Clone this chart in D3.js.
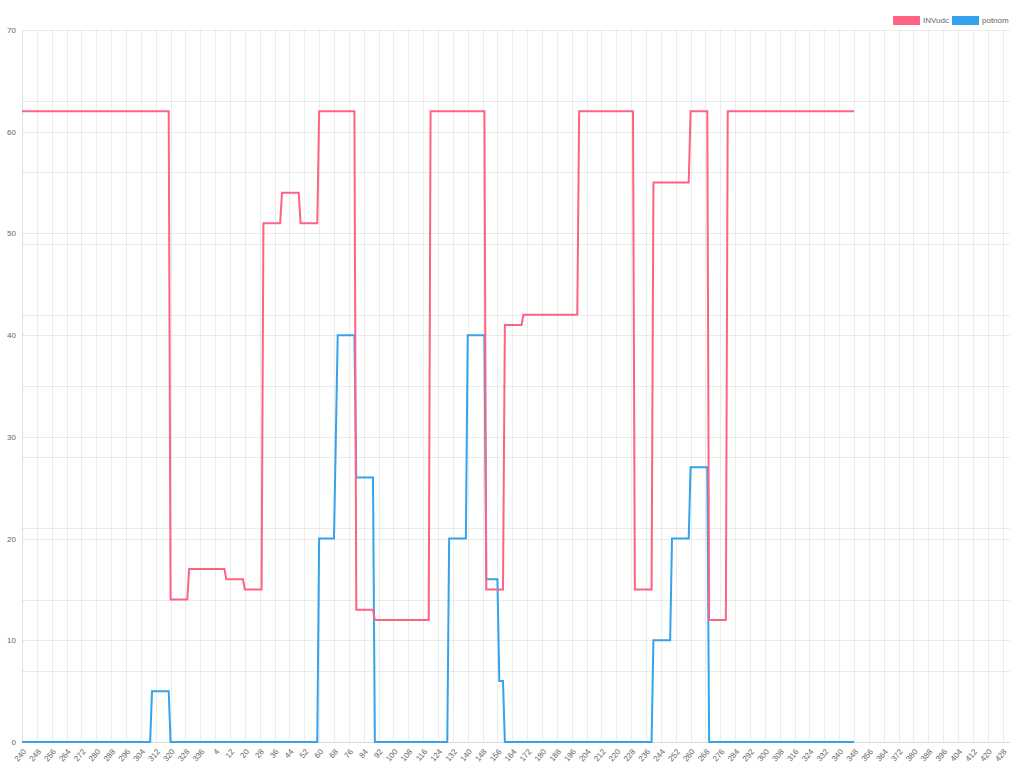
<!DOCTYPE html>
<html>
<head>
<meta charset="utf-8">
<script src="https://cdn.jsdelivr.net/npm/d3@7"></script>
<style>
  html, body { margin: 0; padding: 0; background: #fff; }
  svg { display: block; }
  text { font-family: "Liberation Sans", Arial, Helvetica, sans-serif; }
</style>
</head>
<body>
<div id="chart"></div>
<script>
// ---- Data -------------------------------------------------------------
// Category labels along the x axis (degrees wrap after 339 back to 0)
const categories = [].concat(d3.range(240, 340), d3.range(0, 433)).map(String);

// Every 8th category is labelled on the axis
const tickEvery = 8;

const seriesNames = ["INVudc", "potnom"];

const INVudc = [
  62,62,62,62,62,62,62,62,62,62,
  62,62,62,62,62,62,62,62,62,62,
  62,62,62,62,62,62,62,62,62,62,
  62,62,62,62,62,62,62,62,62,62,
  62,62,62,62,62,62,62,62,62,62,
  62,62,62,62,62,62,62,62,62,62,
  62,62,62,62,62,62,62,62,62,62,
  62,62,62,62,62,62,62,62,62,62,
  14,14,14,14,14,14,14,14,14,14,
  17,17,17,17,17,17,17,17,17,17,
  17,17,17,17,17,17,17,17,17,17,
  16,16,16,16,16,16,16,16,16,16,
  15,15,15,15,15,15,15,15,15,15,
  51,51,51,51,51,51,51,51,51,51,
  54,54,54,54,54,54,54,54,54,54,
  51,51,51,51,51,51,51,51,51,51,
  62,62,62,62,62,62,62,62,62,62,
  62,62,62,62,62,62,62,62,62,62,
  13,13,13,13,13,13,13,13,13,13,
  12,12,12,12,12,12,12,12,12,12,
  12,12,12,12,12,12,12,12,12,12,
  12,12,12,12,12,12,12,12,12,12,
  62,62,62,62,62,62,62,62,62,62,
  62,62,62,62,62,62,62,62,62,62,
  62,62,62,62,62,62,62,62,62,62,
  15,15,15,15,15,15,15,15,15,15,
  41,41,41,41,41,41,41,41,41,41,
  42,42,42,42,42,42,42,42,42,42,
  42,42,42,42,42,42,42,42,42,42,
  42,42,42,42,42,42,42,42,42,42,
  62,62,62,62,62,62,62,62,62,62,
  62,62,62,62,62,62,62,62,62,62,
  62,62,62,62,62,62,62,62,62,62,
  15,15,15,15,15,15,15,15,15,15,
  55,55,55,55,55,55,55,55,55,55,
  55,55,55,55,55,55,55,55,55,55,
  62,62,62,62,62,62,62,62,62,62,
  12,12,12,12,12,12,12,12,12,12,
  62,62,62,62,62,62,62,62,62,62,
  62,62,62,62,62,62,62,62,62,62,
  62,62,62,62,62,62,62,62,62,62,
  62,62,62,62,62,62,62,62,62,62,
  62,62,62,62,62,62,62,62,62,62,
  62,62,62,62,62,62,62,62,62,62,
  62,62,62,62,62,62,62,62,62
];

const potnom = [
  0,0,0,0,0,0,0,0,0,0,
  0,0,0,0,0,0,0,0,0,0,
  0,0,0,0,0,0,0,0,0,0,
  0,0,0,0,0,0,0,0,0,0,
  0,0,0,0,0,0,0,0,0,0,
  0,0,0,0,0,0,0,0,0,0,
  0,0,0,0,0,0,0,0,0,0,
  5,5,5,5,5,5,5,5,5,5,
  0,0,0,0,0,0,0,0,0,0,
  0,0,0,0,0,0,0,0,0,0,
  0,0,0,0,0,0,0,0,0,0,
  0,0,0,0,0,0,0,0,0,0,
  0,0,0,0,0,0,0,0,0,0,
  0,0,0,0,0,0,0,0,0,0,
  0,0,0,0,0,0,0,0,0,0,
  0,0,0,0,0,0,0,0,0,0,
  20,20,20,20,20,20,20,20,20,30,
  40,40,40,40,40,40,40,40,40,40,
  26,26,26,26,26,26,26,26,26,26,
  0,0,0,0,0,0,0,0,0,0,
  0,0,0,0,0,0,0,0,0,0,
  0,0,0,0,0,0,0,0,0,0,
  0,0,0,0,0,0,0,0,0,0,
  20,20,20,20,20,20,20,20,20,20,
  40,40,40,40,40,40,40,40,40,40,
  16,16,16,16,16,16,16,6,6,6,
  0,0,0,0,0,0,0,0,0,0,
  0,0,0,0,0,0,0,0,0,0,
  0,0,0,0,0,0,0,0,0,0,
  0,0,0,0,0,0,0,0,0,0,
  0,0,0,0,0,0,0,0,0,0,
  0,0,0,0,0,0,0,0,0,0,
  0,0,0,0,0,0,0,0,0,0,
  0,0,0,0,0,0,0,0,0,0,
  10,10,10,10,10,10,10,10,10,10,
  20,20,20,20,20,20,20,20,20,20,
  27,27,27,27,27,27,27,27,27,27,
  0,0,0,0,0,0,0,0,0,0,
  0,0,0,0,0,0,0,0,0,0,
  0,0,0,0,0,0,0,0,0,0,
  0,0,0,0,0,0,0,0,0,0,
  0,0,0,0,0,0,0,0,0,0,
  0,0,0,0,0,0,0,0,0,0,
  0,0,0,0,0,0,0,0,0,0,
  0,0,0,0,0,0,0,0,0
];

const yTicks = [0, 10, 20, 30, 40, 50, 60, 70];
const yDomain = [0, 70];

(function draw() {
  // ---- Layout --------------------------------------------------------
  const W = 1011, H = 772;
  const pLeft = 22, pRight = 1010, pTop = 30, pBottom = 742;
  const colors = ["rgb(255,99,132)", "rgb(54,162,235)"];
  const gridColor = "rgba(0,0,0,0.075)";
  const textColor = "#666";
  const fontSize = 8;

  const svg = d3.select("#chart").append("svg")
    .attr("width", W).attr("height", H)
    .style("background", "#fff");

  const idx = d3.range(categories.length);
  const x = d3.scalePoint().domain(idx).range([pLeft, pRight]).padding(0);
  const y = d3.scaleLinear().domain(yDomain).range([pBottom, pTop]);

  // ---- Grid ---------------------------------------------------------
  const grid = svg.append("g").attr("shape-rendering", "crispEdges");

  // secondary horizontal grid (10 equal divisions, skipping the shared ends)
  const y2 = d3.scaleLinear().domain([0, 10]).range([pBottom, pTop]);
  grid.selectAll("line.h2").data(d3.range(1, 10)).enter().append("line")
    .attr("x1", pLeft).attr("x2", pRight)
    .attr("y1", d => Math.round(y2(d)) + 0.5).attr("y2", d => Math.round(y2(d)) + 0.5)
    .attr("stroke", gridColor).attr("stroke-width", 1);

  // main horizontal grid
  grid.selectAll("line.h").data(yTicks).enter().append("line")
    .attr("x1", pLeft).attr("x2", pRight)
    .attr("y1", d => Math.round(y(d)) + 0.5).attr("y2", d => Math.round(y(d)) + 0.5)
    .attr("stroke", d => d === 0 ? "rgba(0,0,0,0.15)" : gridColor).attr("stroke-width", 1);

  const xTickIdx = idx.filter(i => i % tickEvery === 0);
  grid.selectAll("line.v").data(xTickIdx).enter().append("line")
    .attr("x1", d => Math.round(x(d)) + 0.5).attr("x2", d => Math.round(x(d)) + 0.5)
    .attr("y1", pTop).attr("y2", pBottom)
    .attr("stroke", d => d === 0 ? "rgba(0,0,0,0.12)" : gridColor).attr("stroke-width", 1);

  // ---- Axis labels ----------------------------------------------------
  const yAxis = d3.axisLeft(y).tickValues(yTicks).tickSize(0).tickPadding(6);
  const gy = svg.append("g").attr("transform", `translate(${pLeft},0)`).call(yAxis);
  gy.select(".domain").remove();
  gy.selectAll("text").attr("fill", textColor).style("font-size", fontSize + "px")
    .style("font-family", '"Liberation Sans", Arial, sans-serif');

  const xAxis = d3.axisBottom(x).tickValues(xTickIdx).tickSize(0)
    .tickFormat(i => categories[i]);
  const gx = svg.append("g").attr("transform", `translate(0,${pBottom})`).call(xAxis);
  gx.select(".domain").remove();
  gx.selectAll("text")
    .attr("fill", textColor).style("font-size", fontSize + "px")
    .style("font-family", '"Liberation Sans", Arial, sans-serif')
    .attr("text-anchor", "end")
    .attr("dy", "0.35em")
    .attr("y", 0)
    .attr("transform", "translate(2,8) rotate(-50)");

  // ---- Lines ---------------------------------------------------------
  const seriesData = [INVudc, potnom];
  const line = d3.line().x((d, i) => x(i)).y(d => y(d));
  // draw in reverse so the first dataset is on top
  [1, 0].forEach(s => {
    svg.append("path")
      .datum(seriesData[s])
      .attr("d", line)
      .attr("fill", "none")
      .attr("stroke", colors[s])
      .attr("stroke-width", 2)
      .attr("stroke-linejoin", "miter");
  });

  // ---- Legend ----------------------------------------------------------
  const legendItems = [
    { name: seriesNames[0], color: colors[0], bx: 893, tx: 923 },
    { name: seriesNames[1], color: colors[1], bx: 952, tx: 982 }
  ];
  const lg = svg.append("g");
  legendItems.forEach(it => {
    lg.append("rect").attr("x", it.bx).attr("y", 16).attr("width", 27).attr("height", 9)
      .attr("fill", it.color);
    lg.append("text").attr("x", it.tx).attr("y", 20.5).attr("dy", "0.35em")
      .attr("fill", textColor).style("font-size", fontSize + "px").text(it.name);
  });
})();
</script>
</body>
</html>
